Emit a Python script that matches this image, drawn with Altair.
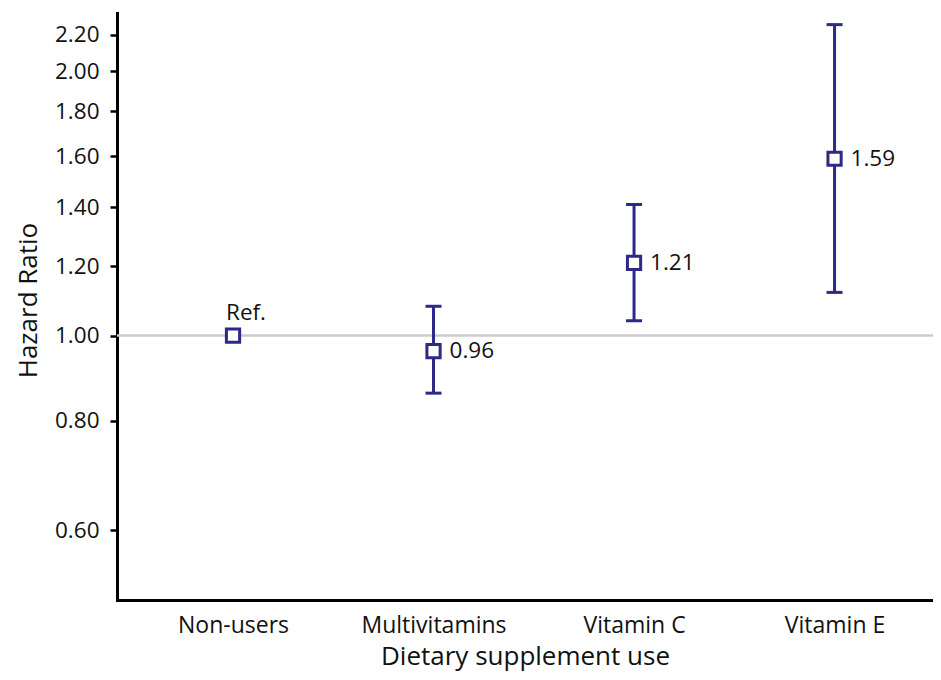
import altair as alt
import pandas as pd

# ---- data ----
categories = ["Non-users", "Multivitamins", "Vitamin C", "Vitamin E"]
hazard_ratio = [1.00, 0.96, 1.21, 1.59]
ci_low = [None, 0.86, 1.04, 1.12]
ci_high = [None, 1.08, 1.41, 2.26]
point_labels = ["Ref.", "0.96", "1.21", "1.59"]
y_tick_values = [0.6, 0.8, 1.0, 1.2, 1.4, 1.6, 1.8, 2.0, 2.2]
reference_line = [1.0]

df = pd.DataFrame({
    "idx": list(range(len(categories))),
    "cat": categories,
    "hr": hazard_ratio,
    "lo": ci_low,
    "hi": ci_high,
    "label": point_labels,
})
ref_df = pd.DataFrame({"ref": reference_line})

COLOR = "#2e2986"
FONT = "Open Sans"
TEXT = "#111111"

label_expr = "[" + ",".join("'" + c + "'" for c in categories) + "][datum.value]"

x_scale = alt.Scale(domain=[-0.5786, 3.491], nice=False, zero=False)
x_axis = alt.Axis(
    values=list(range(len(categories))),
    labelExpr=label_expr,
    ticks=False,
    tickSize=0,
    grid=False,
    title="Dietary supplement use",
    labelFontSize=23,
    labelFont=FONT,
    labelColor=TEXT,
    labelBaseline="alphabetic",
    labelPadding=32,
    titleFontSize=26,
    titleFont=FONT,
    titleFontWeight="normal",
    titleColor=TEXT,
    titleBaseline="alphabetic",
    titleY=64,
    domainColor="#000000",
    domainWidth=3,
    domainCap="square",
)

y_scale = alt.Scale(type="log", domain=[0.5, 2.33], nice=False, zero=False)
y_axis = alt.Axis(
    values=y_tick_values,
    format=".2f",
    grid=False,
    title="Hazard Ratio",
    labelFontSize=22.5,
    labelFont=FONT,
    labelColor=TEXT,
    labelPadding=11,
    tickSize=7,
    tickWidth=2.5,
    tickColor="#000000",
    titleFontSize=26,
    titleFont=FONT,
    titleFontWeight="normal",
    titleColor=TEXT,
    titleBaseline="alphabetic",
    titleX=-81,
    titleY=287,
    titleAngle=-90,
    domainColor="#000000",
    domainWidth=3,
    domainCap="square",
)

x_enc = alt.X("idx:Q", scale=x_scale, axis=x_axis)
base = alt.Chart(df)

ref_rule = alt.Chart(ref_df).mark_rule(color="#cccccc", strokeWidth=2.5).encode(
    y=alt.Y("ref:Q", scale=y_scale, axis=y_axis)
)

ci = base.transform_filter("isValid(datum.lo)")

bars = ci.mark_rule(color=COLOR, strokeWidth=3).encode(
    x=x_enc,
    y=alt.Y("lo:Q", scale=y_scale, axis=y_axis),
    y2="hi:Q",
)
cap_lo = ci.mark_tick(color=COLOR, thickness=3, size=16, orient="horizontal", opacity=1).encode(
    x=x_enc, y=alt.Y("lo:Q", scale=y_scale, axis=y_axis)
)
cap_hi = ci.mark_tick(color=COLOR, thickness=3, size=16, orient="horizontal", opacity=1).encode(
    x=x_enc, y=alt.Y("hi:Q", scale=y_scale, axis=y_axis)
)

squares = base.mark_point(
    shape="square", filled=True, fill="white", stroke=COLOR, strokeWidth=3, size=175, opacity=1
).encode(x=x_enc, y=alt.Y("hr:Q", scale=y_scale, axis=y_axis))

value_text = ci.mark_text(
    align="left", baseline="middle", dx=16, fontSize=22.5, font=FONT, color=TEXT
).encode(x=x_enc, y=alt.Y("hr:Q", scale=y_scale, axis=y_axis), text="label:N")

ref_text = base.transform_filter("!isValid(datum.lo)").mark_text(
    align="left", baseline="alphabetic", dx=-7, dy=-16, fontSize=22.5, font=FONT, color=TEXT
).encode(x=x_enc, y=alt.Y("hr:Q", scale=y_scale, axis=y_axis), text="label:N")

chart = alt.layer(ref_rule, bars, cap_lo, cap_hi, squares, value_text, ref_text).properties(
    width=816,
    height=587,
    padding={"left": 109, "top": 5, "right": 0, "bottom": 72},
    autosize=alt.AutoSizeParams(type="none"),
    background="white",
).configure_view(stroke=None)

chart.save("out.html", embed_options={"renderer": "svg", "actions": False})
